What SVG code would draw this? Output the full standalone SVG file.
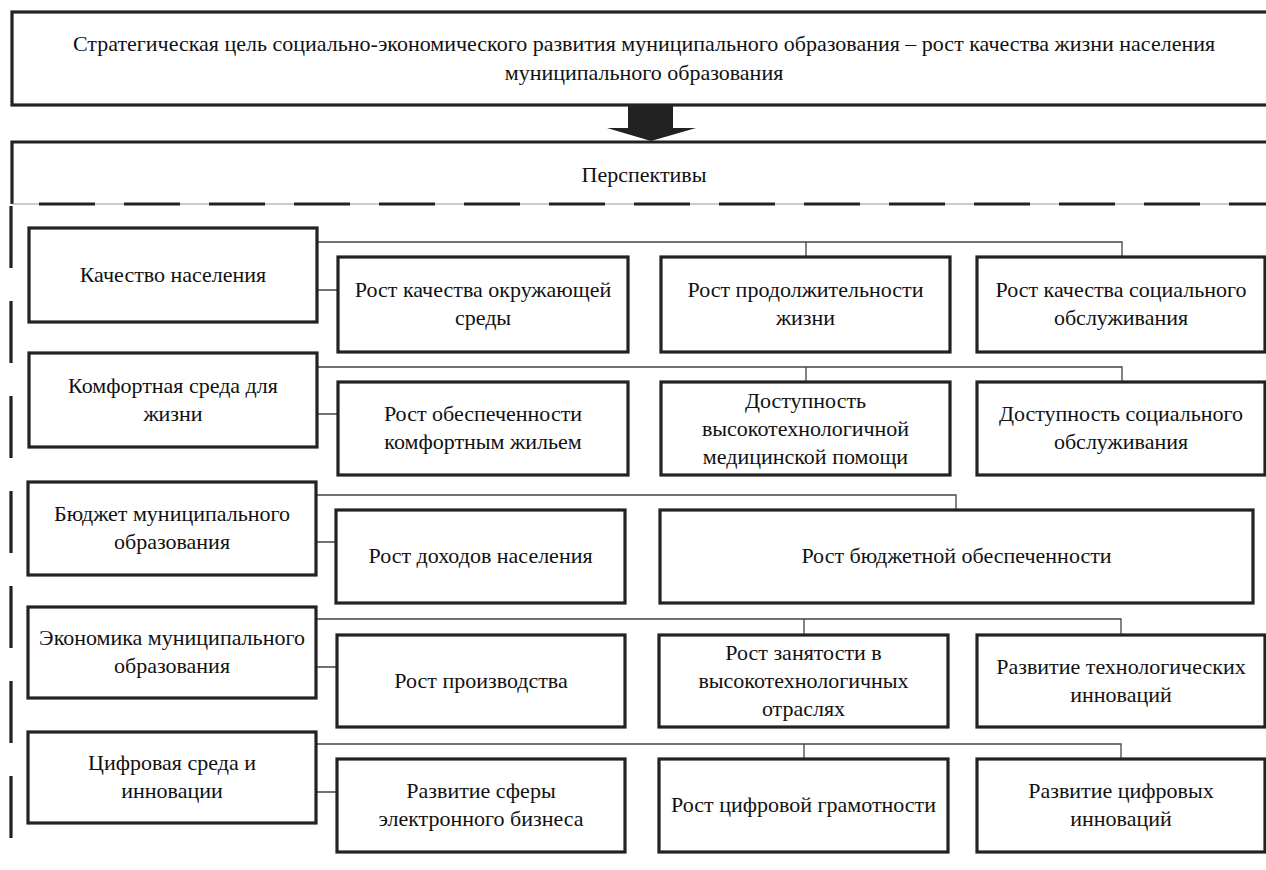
<svg xmlns="http://www.w3.org/2000/svg" width="1266" height="870" viewBox="0 0 1266 870">
<style>
.box{fill:#fff;stroke:#222;stroke-width:3.2}
.t{font-size:22px;fill:#111;text-anchor:middle}
.c{fill:none;stroke:#444;stroke-width:1.3}
.dash{fill:none;stroke:#222;stroke-width:3.2}
</style>
<rect width="1266" height="870" fill="#fff"/>
<g font-family="Liberation Serif, Times New Roman, serif">
<g id="goal">
<rect class="box" x="12" y="12" width="1270" height="93"/>
<text class="t" x="644" y="51">Стратегическая цель социально-экономического развития муниципального образования – рост качества жизни населения</text>
<text class="t" x="644" y="80">муниципального образования</text>
</g>
<g id="arrow">
<polygon points="628,106 673,106 673,128 696,128 651,141 607,128 628,128" fill="#222"/>
</g>
<g id="perspectives">
<path d="M1280,142 H12 V204" class="dash"/>
<line x1="12" y1="204" x2="1266" y2="204" stroke="#999" stroke-width="1"/>
<line x1="39" y1="204" x2="1266" y2="204" class="dash" stroke-dasharray="56 29"/>
<line x1="11" y1="206" x2="11" y2="850" class="dash" stroke-dasharray="62 33"/>
<text class="t" x="644" y="182">Перспективы</text>
</g>
<g id="connectors">
<path class="c" d="M317,242 H1122 V257 M806,242 V257 M317,290 H338"/>
<path class="c" d="M317,367 H1122 V382 M806,367 V382 M317,414 H338"/>
<path class="c" d="M316,495 H956 V510 M316,542 H336" stroke="#777"/>
<path class="c" d="M316,619 H1121 V635 M804,619 V635 M316,667 H337"/>
<path class="c" d="M316,744 H1121 V759 M804,744 V759 M316,792 H337"/>
</g>
<g id="row1-left">
<rect class="box" x="29" y="228" width="288" height="94"/>
<text class="t" x="173" y="282">Качество населения</text>
</g>
<g id="row1-a">
<rect class="box" x="338" y="257" width="290" height="95"/>
<text class="t" x="483" y="297">Рост качества окружающей</text>
<text class="t" x="483" y="325">среды</text>
</g>
<g id="row1-b">
<rect class="box" x="661" y="257" width="289" height="95"/>
<text class="t" x="805.5" y="297">Рост продолжительности</text>
<text class="t" x="805.5" y="325">жизни</text>
</g>
<g id="row1-c">
<rect class="box" x="977" y="257" width="288" height="95"/>
<text class="t" x="1121" y="297">Рост качества социального</text>
<text class="t" x="1121" y="325">обслуживания</text>
</g>
<g id="row2-left">
<rect class="box" x="29" y="353" width="288" height="94"/>
<text class="t" x="173" y="393">Комфортная среда для</text>
<text class="t" x="173" y="421">жизни</text>
</g>
<g id="row2-a">
<rect class="box" x="338" y="382" width="290" height="93"/>
<text class="t" x="483" y="421">Рост обеспеченности</text>
<text class="t" x="483" y="449">комфортным жильем</text>
</g>
<g id="row2-b">
<rect class="box" x="661" y="382" width="289" height="93"/>
<text class="t" x="805.5" y="408">Доступность</text>
<text class="t" x="805.5" y="436">высокотехнологичной</text>
<text class="t" x="805.5" y="464">медицинской помощи</text>
</g>
<g id="row2-c">
<rect class="box" x="977" y="382" width="288" height="93"/>
<text class="t" x="1121" y="421">Доступность социального</text>
<text class="t" x="1121" y="449">обслуживания</text>
</g>
<g id="row3-left">
<rect class="box" x="28" y="482" width="288" height="93"/>
<text class="t" x="172" y="521">Бюджет муниципального</text>
<text class="t" x="172" y="549">образования</text>
</g>
<g id="row3-a">
<rect class="box" x="336" y="510" width="289" height="93"/>
<text class="t" x="480.5" y="563">Рост доходов населения</text>
</g>
<g id="row3-b">
<rect class="box" x="660" y="510" width="593" height="93"/>
<text class="t" x="956.5" y="563">Рост бюджетной обеспеченности</text>
</g>
<g id="row4-left">
<rect class="box" x="28" y="607" width="288" height="91"/>
<text class="t" x="172" y="645">Экономика муниципального</text>
<text class="t" x="172" y="673">образования</text>
</g>
<g id="row4-a">
<rect class="box" x="337" y="635" width="288" height="92"/>
<text class="t" x="481" y="688">Рост производства</text>
</g>
<g id="row4-b">
<rect class="box" x="659" y="635" width="289" height="92"/>
<text class="t" x="803.5" y="660">Рост занятости в</text>
<text class="t" x="803.5" y="688">высокотехнологичных</text>
<text class="t" x="803.5" y="716">отраслях</text>
</g>
<g id="row4-c">
<rect class="box" x="977" y="635" width="288" height="92"/>
<text class="t" x="1121" y="674">Развитие технологических</text>
<text class="t" x="1121" y="702">инноваций</text>
</g>
<g id="row5-left">
<rect class="box" x="28" y="732" width="288" height="91"/>
<text class="t" x="172" y="770">Цифровая среда и</text>
<text class="t" x="172" y="798">инновации</text>
</g>
<g id="row5-a">
<rect class="box" x="337" y="759" width="288" height="93"/>
<text class="t" x="481" y="798">Развитие сферы</text>
<text class="t" x="481" y="826">электронного бизнеса</text>
</g>
<g id="row5-b">
<rect class="box" x="659" y="759" width="289" height="93"/>
<text class="t" x="803.5" y="812">Рост цифровой грамотности</text>
</g>
<g id="row5-c">
<rect class="box" x="977" y="759" width="288" height="93"/>
<text class="t" x="1121" y="798">Развитие цифровых</text>
<text class="t" x="1121" y="826">инноваций</text>
</g>
</g>
</svg>
